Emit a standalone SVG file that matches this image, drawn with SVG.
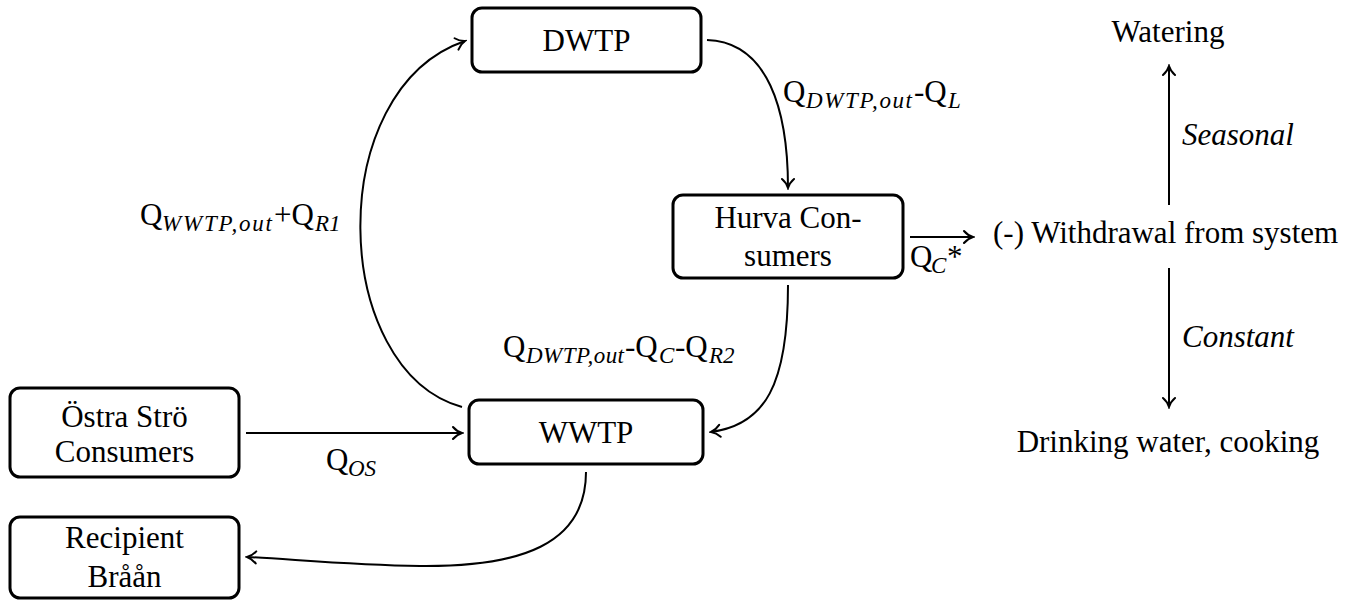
<svg xmlns="http://www.w3.org/2000/svg" width="1365" height="603" viewBox="0 0 1365 603" font-family="Liberation Serif, Times New Roman, Times, serif">
  <style>
    .box { fill: #fff; stroke: #000; stroke-width: 3; }
    text { font-family: "Liberation Serif", "Times New Roman", Times, serif; font-size: 31px; fill: #000; }
    .sub { font-style: italic; font-size: 23px; }
    .it { font-style: italic; }
    .edge { fill: none; stroke: #000; stroke-width: 2; marker-end: url(#to); }
  </style>
  <defs>
    <marker id="to" viewBox="-11 -8 13 16" refX="0" refY="0" markerWidth="13" markerHeight="16" markerUnits="userSpaceOnUse" orient="auto">
      <path d="M-9,-6 C-6,-2.5 -2,-0.6 0,0 C-2,0.6 -6,2.5 -9,6" fill="none" stroke="#000" stroke-width="2" stroke-linecap="round"/>
    </marker>
  </defs>
  <rect width="1365" height="603" fill="#fff"/>

  <!-- connectors -->
  <g id="connectors">
    <path class="edge" d="M462,407 C330,370 322,90 465,41"/>
    <path class="edge" d="M707,40 C768,42 788,110 788,188"/>
    <path class="edge" d="M788,285 C788,385 765,425 711,432"/>
    <path class="edge" d="M246,433 L462,433"/>
    <path class="edge" d="M586,472 C586,545 520,567 420,566 C350,565 290,559 247,557"/>
    <path class="edge" d="M910,237 L973,237"/>
    <path class="edge" d="M1169,205 L1169,66"/>
    <path class="edge" d="M1169,268 L1169,407"/>
  </g>

  <!-- connector labels -->
  <g id="labels">
    <text><tspan x="783" y="102">Q</tspan><tspan class="sub" x="806" y="108" textLength="106" lengthAdjust="spacing">DWTP,out</tspan><tspan x="914" y="102">-Q</tspan><tspan class="sub" x="948" y="108">L</tspan></text>
    <text><tspan x="140" y="225">Q</tspan><tspan class="sub" x="162" y="231" textLength="110" lengthAdjust="spacing">WWTP,out</tspan><tspan x="274" y="225">+Q</tspan><tspan class="sub" x="315" y="231">R1</tspan></text>
    <text><tspan x="503" y="357">Q</tspan><tspan class="sub" x="526" y="363" textLength="98" lengthAdjust="spacing">DWTP,out</tspan><tspan x="625" y="357">-Q</tspan><tspan class="sub" x="659" y="363">C</tspan><tspan x="675" y="357">-Q</tspan><tspan class="sub" x="709" y="363">R2</tspan></text>
    <text><tspan x="910" y="267">Q</tspan><tspan class="sub" x="931" y="273">C</tspan><tspan x="947" y="267">*</tspan></text>
    <text><tspan x="326" y="470">Q</tspan><tspan class="sub" x="348" y="476">OS</tspan></text>
    <text class="it" x="1182" y="145">Seasonal</text>
    <text class="it" x="1182" y="347">Constant</text>
  </g>

  <g id="dwtp">
    <rect class="box" x="472" y="8" width="229" height="64" rx="10"/>
    <text x="586.5" y="51" text-anchor="middle">DWTP</text>
  </g>
  <g id="hurva">
    <rect class="box" x="673" y="195" width="230" height="83" rx="10"/>
    <text x="788" y="228" text-anchor="middle">Hurva Con-</text>
    <text x="788" y="266" text-anchor="middle">sumers</text>
  </g>
  <g id="wwtp">
    <rect class="box" x="469" y="400" width="234" height="64" rx="10"/>
    <text x="586" y="443" text-anchor="middle">WWTP</text>
  </g>
  <g id="ostra">
    <rect class="box" x="10" y="388" width="229" height="89" rx="10"/>
    <text x="124.5" y="427" text-anchor="middle">Östra Strö</text>
    <text x="124.5" y="462" text-anchor="middle">Consumers</text>
  </g>
  <g id="recipient">
    <rect class="box" x="10" y="517" width="229" height="81" rx="10"/>
    <text x="124.5" y="548" text-anchor="middle">Recipient</text>
    <text x="124.5" y="587" text-anchor="middle">Bråån</text>
  </g>
  <g id="withdrawal">
    <text x="993" y="243">(-) Withdrawal from system</text>
  </g>
  <g id="watering">
    <text x="1168" y="42" text-anchor="middle">Watering</text>
  </g>
  <g id="drinking">
    <text x="1168" y="452" text-anchor="middle">Drinking water, cooking</text>
  </g>
</svg>
